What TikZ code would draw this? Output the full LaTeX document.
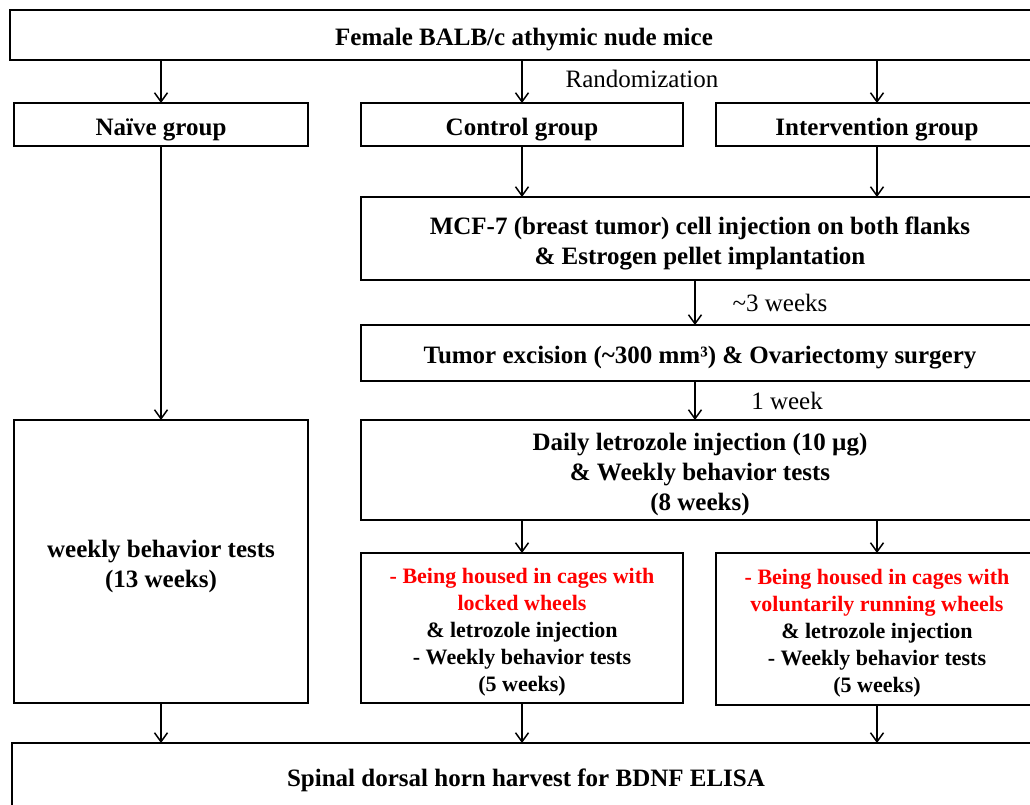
\documentclass[tikz,border=0pt]{standalone}
\usepackage{fontspec}
\setmainfont{Liberation Serif}
\usetikzlibrary{arrows.meta,calc}
\definecolor{redtxt}{RGB}{255,0,0}
\newcommand{\tstrut}{\rule{0pt}{27pt}}
\newcommand{\sstrut}{\rule{0pt}{24pt}}
\tikzset{
  box/.style={draw=black, line width=1.8pt, inner sep=0pt, outer sep=0pt, anchor=north west, align=center,
    font=\fontsize{25}{30}\selectfont\bfseries},
  smallbox/.style={draw=black, line width=1.8pt, inner sep=0pt, outer sep=0pt, anchor=north west, align=center,
    font=\fontsize{22}{27}\selectfont\bfseries},
  lbl/.style={font=\fontsize{25}{30}\selectfont, inner sep=0pt},
  arr/.style={line width=1.5pt, -{Straight Barb[length=9pt,width=13pt,line width=1.5pt]}}
}
\begin{document}
\begin{tikzpicture}[x=1pt,y=-1pt]
\useasboundingbox (0,0) rectangle (1030,805);
\clip (0,0) rectangle (1030,805);
\fill[white] (0,0) rectangle (1030,805);
% boxes
\node[box, minimum width=1028pt, minimum height=50pt] (top) at (10,10) {\tstrut Female BALB/c athymic nude mice};
\node[box, minimum width=294pt, minimum height=43pt] (naive) at (14,103) {\tstrut Naïve group};
\node[box, minimum width=322pt, minimum height=43pt] (control) at (361,103) {\tstrut Control group};
\node[box, minimum width=322pt, minimum height=43pt] (interv) at (716,103) {\tstrut Intervention group};
\node[box, minimum width=678pt, minimum height=83pt] (mcf) at (361,197) {\tstrut MCF-7 (breast tumor) cell injection on both flanks\\ \& Estrogen pellet implantation};
\node[box, minimum width=678pt, minimum height=56pt] (tumor) at (361,325) {\tstrut Tumor excision (\textasciitilde300 mm³) \& Ovariectomy surgery};
\node[box, minimum width=678pt, minimum height=100pt] (daily) at (361,420) {\tstrut Daily letrozole injection (10 µg)\\ \& Weekly behavior tests\\ (8 weeks)};
\node[box, minimum width=294pt, minimum height=283pt] (weekly) at (14,420) {\tstrut weekly behavior tests\\ (13 weeks)};
\node[smallbox, minimum width=322pt, minimum height=150pt] (locked) at (361,553) {\sstrut\textcolor{redtxt}{- Being housed in cages with}\\ \textcolor{redtxt}{locked wheels}\\ \& letrozole injection\\ - Weekly behavior tests\\ (5 weeks)};
\node[smallbox, minimum width=322pt, minimum height=152pt] (running) at (716,553) {\sstrut\textcolor{redtxt}{- Being housed in cages with}\\ \textcolor{redtxt}{voluntarily running wheels}\\ \& letrozole injection\\ - Weekly behavior tests\\ (5 weeks)};
\node[draw=black, line width=1.8pt, inner sep=0pt, outer sep=0pt, anchor=north west, minimum width=1028pt, minimum height=70pt] (bottom) at (12,743) {};
\node[font=\fontsize{25}{30}\selectfont\bfseries, inner sep=0pt] (btxt) at (526,780) {Spinal dorsal horn harvest for BDNF ELISA};
% labels
\node[lbl] (rand) at (642,79) {Randomization};
\node[lbl] (w3) at (780,303) {\textasciitilde3 weeks};
\node[lbl] (w1) at (787,401) {1 week};
% arrows
\draw[arr] (naive.north |- top.south) -- (naive.north);
\draw[arr] (control.north |- top.south) -- (control.north);
\draw[arr] (interv.north |- top.south) -- (interv.north);
\draw[arr] (control.south) -- (control.south |- mcf.north);
\draw[arr] (interv.south) -- (interv.south |- mcf.north);
\draw[arr] ([xshift=-5pt]mcf.south) -- ([xshift=-5pt]tumor.north);
\draw[arr] ([xshift=-5pt]tumor.south) -- ([xshift=-5pt]daily.north);
\draw[arr] (naive.south) -- (weekly.north);
\draw[arr] (locked.north |- daily.south) -- (locked.north);
\draw[arr] (running.north |- daily.south) -- (running.north);
\draw[arr] (weekly.south) -- (weekly.south |- bottom.north);
\draw[arr] (locked.south) -- (locked.south |- bottom.north);
\draw[arr] (running.south) -- (running.south |- bottom.north);
\end{tikzpicture}
\end{document}
